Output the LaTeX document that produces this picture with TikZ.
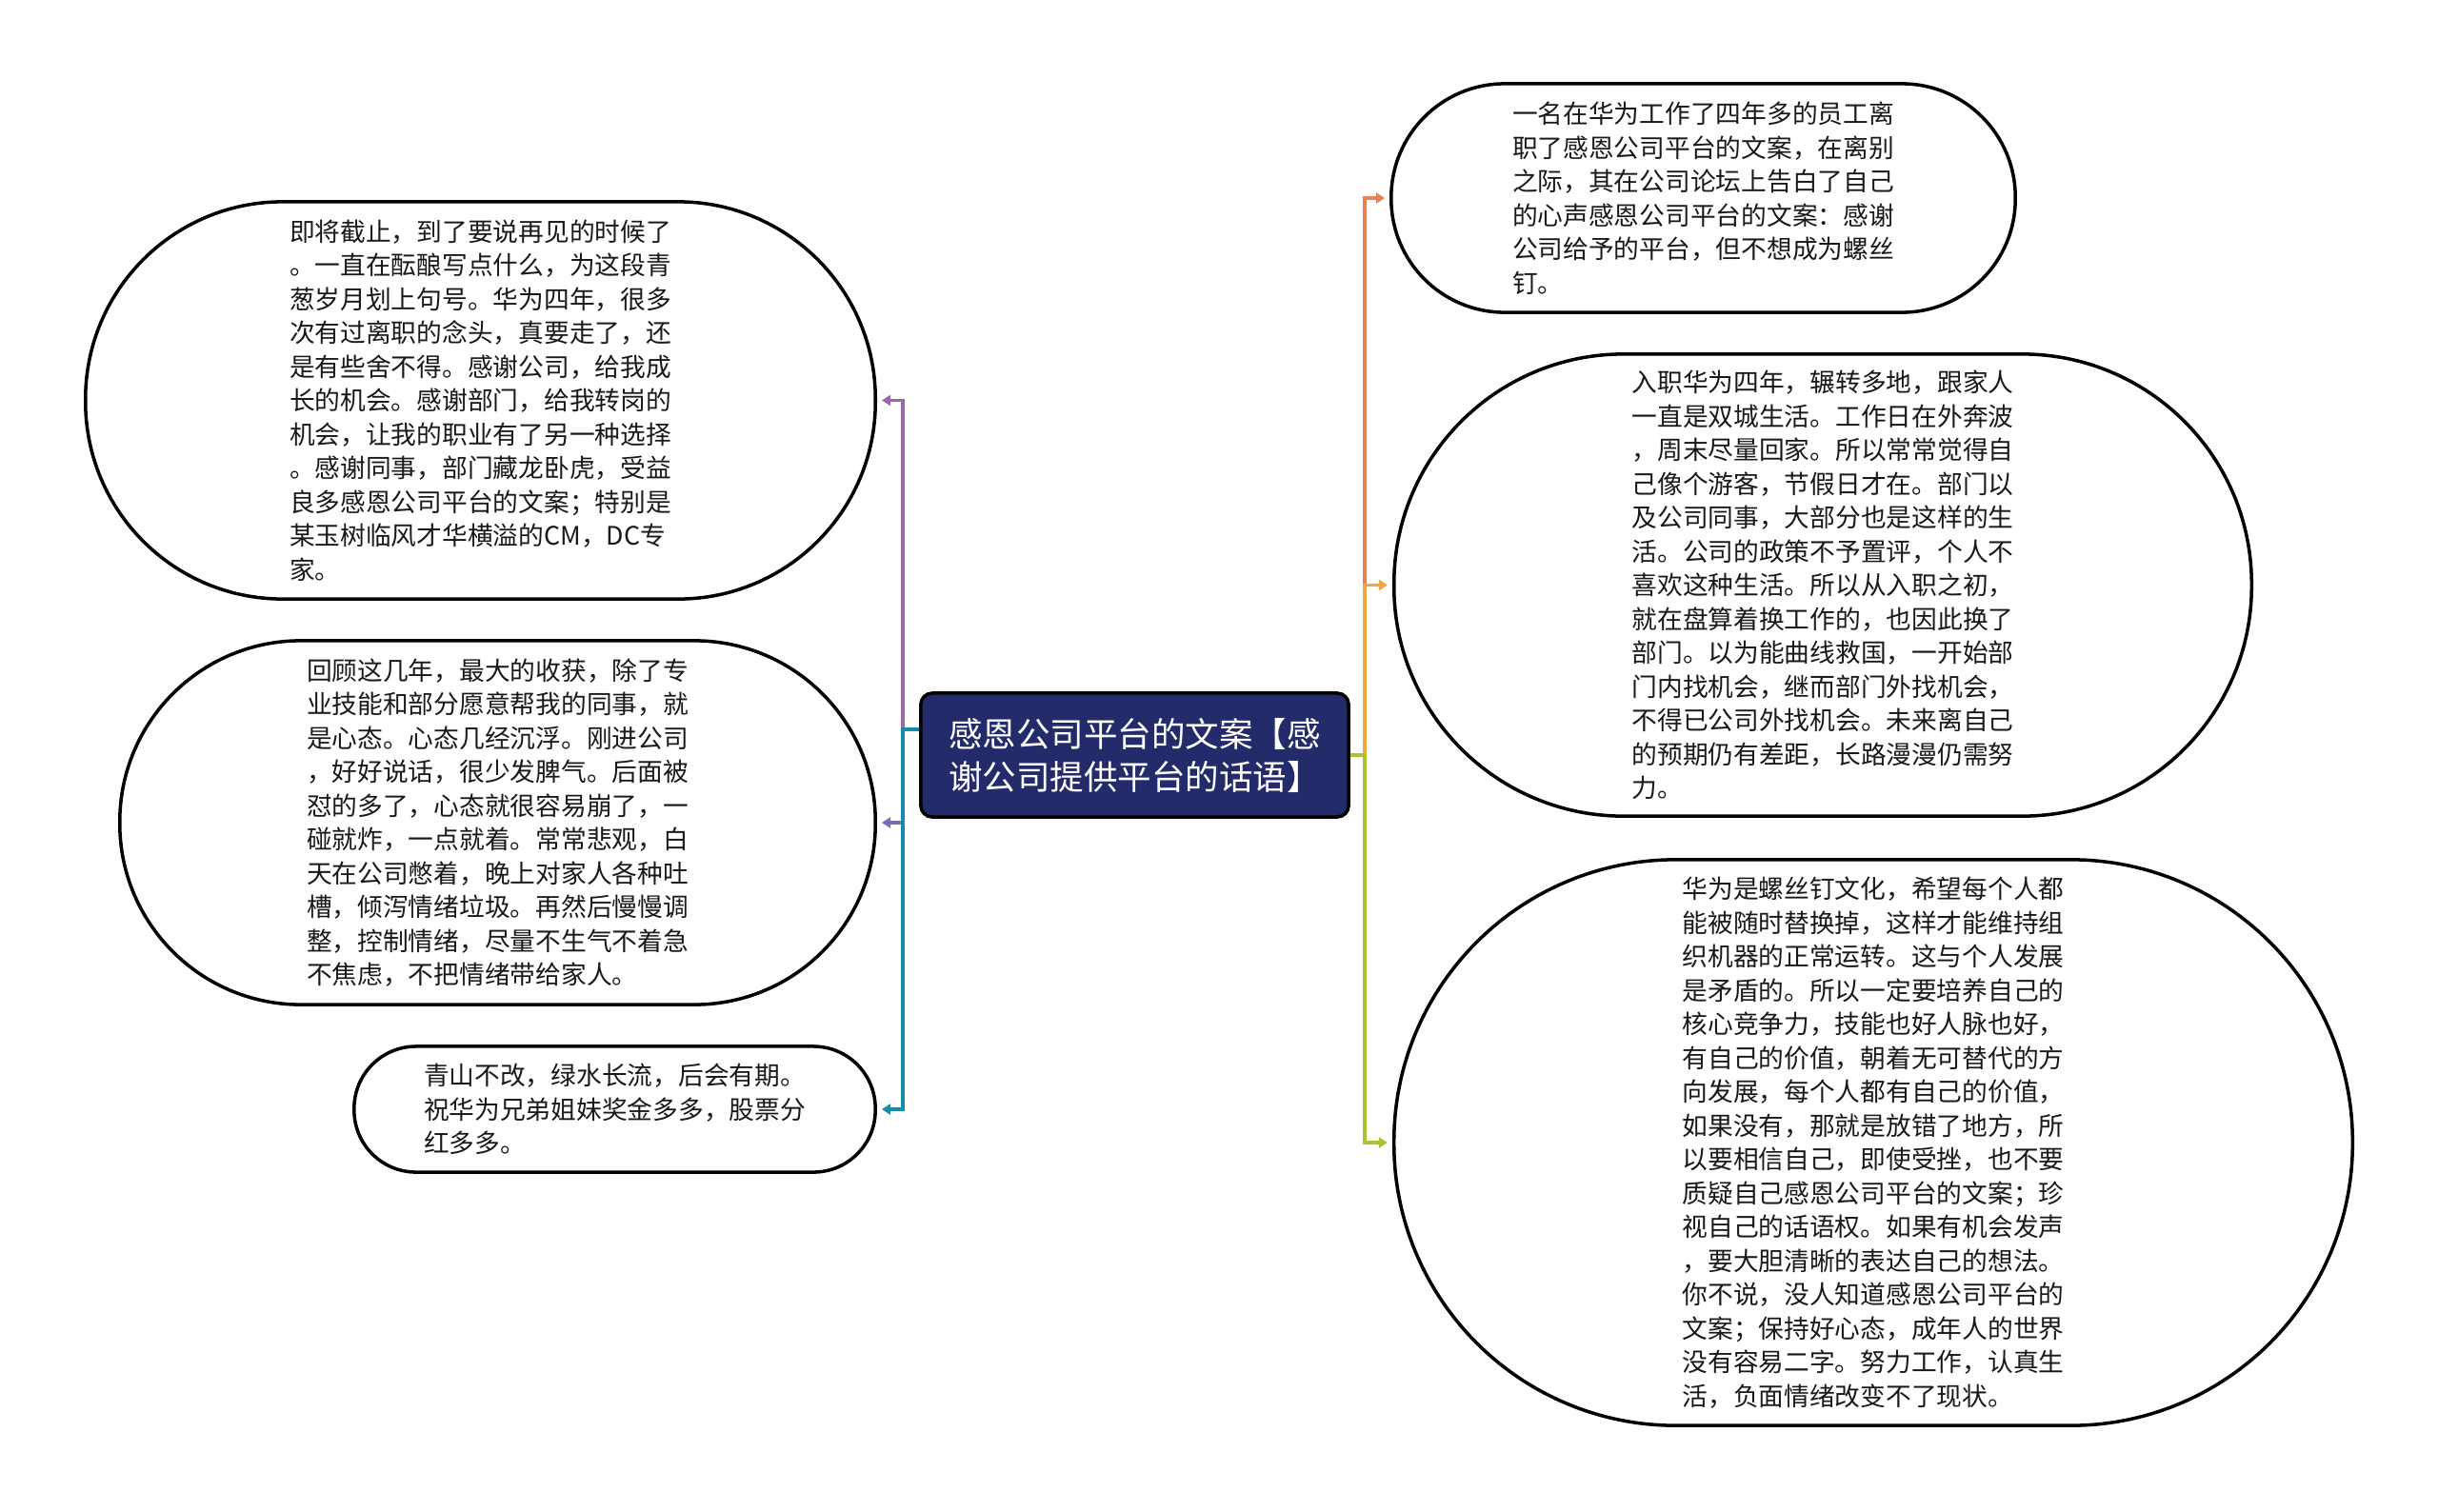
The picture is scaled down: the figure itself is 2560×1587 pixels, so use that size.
\documentclass[tikz,border=0pt]{standalone}
\usepackage{fontspec}
\setmainfont{Noto Sans CJK SC}
\usepackage{tikz}
\usetikzlibrary{arrows.meta}

\definecolor{topicblue}{RGB}{35,43,107}
\definecolor{purpleline}{RGB}{155,105,170}
\definecolor{slateline}{RGB}{120,110,175}
\definecolor{tealline}{RGB}{20,140,165}
\definecolor{orangeline}{RGB}{232,128,90}
\definecolor{amberline}{RGB}{240,168,60}
\definecolor{limeline}{RGB}{168,196,50}

\tikzset{
  topic/.style={draw=black, line width=1pt, fill=topicblue, text=white, rounded corners=0.12cm,
    align=left, inner sep=0pt, font=\fontsize{10.1}{12.8}\selectfont},
  leaf/.style={draw=black, line width=1pt, fill=white, text={black!90}, align=left,
    inner sep=0pt, font=\fontsize{7.6}{10.1}\selectfont},
  link/.style={line width=0.95pt, -{Triangle[length=0.09cm,width=0.11cm]}, shorten >=0.05cm},
}

\begin{document}
\begin{tikzpicture}[x=0.01cm,y=-0.01cm]
  \useasboundingbox (0,0) rectangle (2560,1587);

  % centre
  \node[topic, minimum width=4.49cm, minimum height=1.30cm] (topic) at (1191.5,793)
    {感恩公司平台的文案【感\\谢公司提供平台的话语】};

  % left side
  \node[leaf, minimum width=8.29cm, minimum height=4.17cm, rounded corners=2.07cm] (thanks) at (504.5,420.5)
    {即将截止，到了要说再见的时候了\\
     。一直在酝酿写点什么，为这段青\\
     葱岁月划上句号。华为四年，很多\\
     次有过离职的念头，真要走了，还\\
     是有些舍不得。感谢公司，给我成\\
     长的机会。感谢部门，给我转岗的\\
     机会，让我的职业有了另一种选择\\
     。感谢同事，部门藏龙卧虎，受益\\
     良多感恩公司平台的文案；特别是\\
     某玉树临风才华横溢的CM，DC专\\
     家。};
  \node[leaf, minimum width=7.93cm, minimum height=3.82cm, rounded corners=1.90cm] (growth) at (522.5,864)
    {回顾这几年，最大的收获，除了专\\
     业技能和部分愿意帮我的同事，就\\
     是心态。心态几经沉浮。刚进公司\\
     ，好好说话，很少发脾气。后面被\\
     怼的多了，心态就很容易崩了，一\\
     碰就炸，一点就着。常常悲观，白\\
     天在公司憋着，晚上对家人各种吐\\
     槽，倾泻情绪垃圾。再然后慢慢调\\
     整，控制情绪，尽量不生气不着急\\
     不焦虑，不把情绪带给家人。};
  \node[leaf, minimum width=5.47cm, minimum height=1.32cm, rounded corners=0.65cm] (farewell) at (645.5,1165)
    {青山不改，绿水长流，后会有期。\\
     祝华为兄弟姐妹奖金多多，股票分\\
     红多多。};

  % right side
  \node[leaf, minimum width=6.55cm, minimum height=2.40cm, rounded corners=1.19cm] (leaving) at (1788.5,208)
    {一名在华为工作了四年多的员工离\\
     职了感恩公司平台的文案，在离别\\
     之际，其在公司论坛上告白了自己\\
     的心声感恩公司平台的文案：感谢\\
     公司给予的平台，但不想成为螺丝\\
     钉。};
  \node[leaf, minimum width=9.00cm, minimum height=4.85cm, rounded corners=2.41cm] (twocity) at (1914,614.5)
    {入职华为四年，辗转多地，跟家人\\
     一直是双城生活。工作日在外奔波\\
     ，周末尽量回家。所以常常觉得自\\
     己像个游客，节假日才在。部门以\\
     及公司同事，大部分也是这样的生\\
     活。公司的政策不予置评，个人不\\
     喜欢这种生活。所以从入职之初，\\
     就在盘算着换工作的，也因此换了\\
     部门。以为能曲线救国，一开始部\\
     门内找机会，继而部门外找机会，\\
     不得已公司外找机会。未来离自己\\
     的预期仍有差距，长路漫漫仍需努\\
     力。};
  \node[leaf, minimum width=10.06cm, minimum height=5.94cm, rounded corners=2.96cm] (screw) at (1967,1200)
    {华为是螺丝钉文化，希望每个人都\\
     能被随时替换掉，这样才能维持组\\
     织机器的正常运转。这与个人发展\\
     是矛盾的。所以一定要培养自己的\\
     核心竞争力，技能也好人脉也好，\\
     有自己的价值，朝着无可替代的方\\
     向发展，每个人都有自己的价值，\\
     如果没有，那就是放错了地方，所\\
     以要相信自己，即使受挫，也不要\\
     质疑自己感恩公司平台的文案；珍\\
     视自己的话语权。如果有机会发声\\
     ，要大胆清晰的表达自己的想法。\\
     你不说，没人知道感恩公司平台的\\
     文案；保持好心态，成年人的世界\\
     没有容易二字。努力工作，认真生\\
     活，负面情绪改变不了现状。};

  % connectors
  \draw[link, purpleline] ([yshift=0.27cm]topic.west) -- ++(-17,0) |- (thanks.east);
  \draw[link, slateline] ([yshift=0.27cm]topic.west) -- ++(-17,0) |- (growth.east);
  \draw[link, tealline] ([yshift=0.27cm]topic.west) -- ++(-17,0) |- (farewell.east);

  \draw[link, orangeline] (topic.east) -- ++(15,0) |- (leaving.west);
  \draw[link, amberline] (topic.east) -- ++(15,0) |- (twocity.west);
  \draw[link, limeline] (topic.east) -- ++(15,0) |- (screw.west);
\end{tikzpicture}
\end{document}
